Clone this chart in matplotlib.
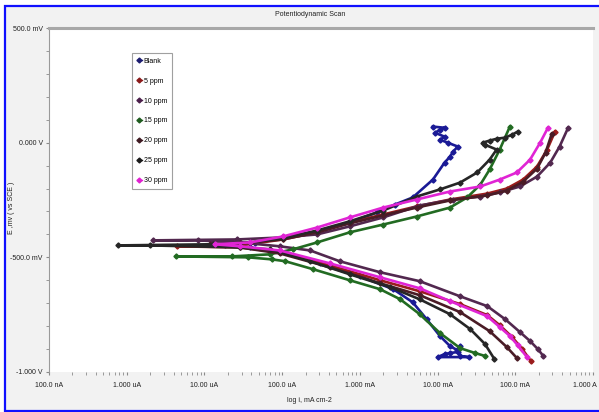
import numpy as np
import matplotlib.pyplot as plt
from matplotlib.lines import Line2D
from matplotlib.patches import Rectangle
from matplotlib.transforms import ScaledTranslation
from matplotlib.ticker import FixedLocator, LogLocator, MultipleLocator, NullFormatter

plt.rcParams['font.family'] = ['Liberation Sans Narrow', 'Liberation Sans', 'DejaVu Sans']

# log10 of current (A) and potential (V vs SCE), cathodic end -> Ecorr -> anodic end
blank_log_i = [-1.71, -1.60, -2.00, -1.91, -1.84, -1.74, -1.71, -1.75, -1.84, -1.97, -2.14, -2.32,
               -2.57, -3.00, -3.51, -4.03, -4.41, -4.74, -4.35, -3.99, -3.55, -3.13, -2.78, -2.55,
               -2.32, -2.06, -1.91, -1.84, -1.80, -1.74, -1.87, -1.97, -1.91, -2.03, -1.97, -1.91, -2.06]
blank_e = [-0.930, -0.935, -0.935, -0.922, -0.917, -0.913, -0.887, -0.904, -0.887, -0.843, -0.770, -0.696,
           -0.639, -0.583, -0.526, -0.478, -0.457, -0.448, -0.439, -0.413, -0.387, -0.348, -0.304, -0.270,
           -0.239, -0.161, -0.087, -0.061, -0.039, -0.017, 0.000, 0.013, 0.026, 0.043, 0.057, 0.065, 0.070]

ppm5_log_i = [-0.80, -0.91, -1.04, -1.20, -1.36, -1.71, -2.23, -2.74, -3.39, -4.03, -4.54, -5.35,
              -4.54, -3.99, -3.55, -3.13, -2.70, -2.27, -1.84, -1.36, -1.11, -0.90, -0.72, -0.59, -0.49]
ppm5_e = [-0.952, -0.900, -0.848, -0.796, -0.752, -0.704, -0.648, -0.600, -0.535, -0.478, -0.457, -0.452,
          -0.448, -0.422, -0.391, -0.348, -0.313, -0.278, -0.248, -0.222, -0.200, -0.161, -0.104, -0.030, 0.048]

ppm10_log_i = [-0.64, -0.71, -0.81, -0.94, -1.13, -1.36, -1.71, -2.23, -2.74, -3.26, -3.64, -4.03, -4.54,
               -5.08, -5.66, -4.58, -3.99, -3.55, -3.13, -2.70, -2.23, -1.80, -1.45, -1.20, -0.94, -0.72,
               -0.55, -0.43, -0.32]
ppm10_e = [-0.930, -0.900, -0.865, -0.826, -0.770, -0.713, -0.670, -0.604, -0.565, -0.517, -0.470, -0.452,
           -0.435, -0.426, -0.426, -0.422, -0.413, -0.400, -0.365, -0.326, -0.274, -0.248, -0.235, -0.217,
           -0.191, -0.148, -0.087, -0.017, 0.065]

ppm15_log_i = [-1.39, -1.52, -1.71, -1.97, -2.23, -2.48, -2.74, -3.13, -3.60, -3.96, -4.13, -4.44, -5.37,
               -4.65, -4.16, -3.86, -3.55, -3.13, -2.70, -2.27, -1.84, -1.62, -1.45, -1.33, -1.20, -1.07]
ppm15_e = [-0.930, -0.917, -0.896, -0.830, -0.748, -0.683, -0.639, -0.600, -0.552, -0.517, -0.509, -0.500,
           -0.496, -0.496, -0.487, -0.465, -0.435, -0.391, -0.357, -0.322, -0.283, -0.239, -0.183, -0.117,
           -0.030, 0.070]

ppm20_log_i = [-0.98, -1.11, -1.33, -1.71, -2.23, -2.74, -3.39, -4.03, -4.54, -4.93, -4.54, -3.99, -3.55,
               -3.13, -2.70, -2.27, -1.84, -1.36, -1.11, -0.90, -0.72, -0.61, -0.53]
ppm20_e = [-0.939, -0.891, -0.822, -0.739, -0.665, -0.613, -0.543, -0.483, -0.457, -0.443, -0.439, -0.422,
           -0.391, -0.352, -0.317, -0.283, -0.252, -0.230, -0.209, -0.170, -0.113, -0.043, 0.039]

ppm25_log_i = [-1.27, -1.39, -1.58, -1.84, -2.23, -2.61, -3.13, -3.64, -4.16, -4.54, -5.70, -6.11,
               -4.89, -4.41, -3.99, -3.55, -3.13, -2.70, -2.27, -1.97, -1.71, -1.49, -1.33, -1.24,
               -1.39, -1.42, -1.33, -1.24, -1.13, -1.04, -0.97]
ppm25_e = [-0.943, -0.878, -0.813, -0.748, -0.683, -0.630, -0.574, -0.517, -0.465, -0.457, -0.448, -0.448,
           -0.443, -0.435, -0.417, -0.383, -0.343, -0.296, -0.235, -0.204, -0.174, -0.130, -0.074, -0.030,
           -0.009, 0.000, 0.009, 0.017, 0.022, 0.035, 0.048]

ppm30_log_i = [-0.85, -0.97, -1.07, -1.20, -1.36, -1.84, -2.23, -2.74, -3.39, -4.03, -4.54, -4.87,
               -4.41, -3.99, -3.55, -3.13, -2.70, -2.27, -1.84, -1.45, -1.20, -0.98, -0.81, -0.68, -0.58]
ppm30_e = [-0.935, -0.883, -0.843, -0.804, -0.757, -0.691, -0.635, -0.587, -0.526, -0.470, -0.452, -0.443,
           -0.435, -0.409, -0.370, -0.326, -0.283, -0.248, -0.213, -0.191, -0.161, -0.130, -0.074, 0.000, 0.065]

labels = ['Blank', '5 ppm', '10 ppm', '15 ppm', '20 ppm', '25 ppm', '30 ppm']
colors = ['#1a1a96', '#9a1c1c', '#52284f', '#226b22', '#4a1c26', '#262626', '#e024d4']
legend_colors = ['#1c1c70', '#8b1a1a', '#4b1f4b', '#1f5c1f', '#3f1a22', '#1a1a1a', '#e020d0']
series = [(blank_log_i, blank_e), (ppm5_log_i, ppm5_e), (ppm10_log_i, ppm10_e), (ppm15_log_i, ppm15_e),
          (ppm20_log_i, ppm20_e), (ppm25_log_i, ppm25_e), (ppm30_log_i, ppm30_e)]

x_ticks = [1e-7, 1e-6, 1e-5, 1e-4, 1e-3, 1e-2, 1e-1, 1.0]
x_tick_labels = ['100.0 nA', '1.000 uA', '10.00 uA', '100.0 uA', '1.000 mA', '10.00 mA', '100.0 mA', '1.000 A']
y_ticks = [-1.0, -0.5, 0.0, 0.5]
y_tick_labels = ['-1.000 V', '-500.0 mV', '0.000 V', '500.0 mV']

fig = plt.figure(figsize=(5.99, 4.12), dpi=100, facecolor='white')
fig.patches.append(Rectangle((5 / 599, 1.5 / 412), 1.2, 405 / 412, transform=fig.transFigure,
                             facecolor='#f2f2f2', edgecolor='#1010ff', lw=1.6, zorder=-10))

ax = fig.add_axes([49 / 599, 40 / 412, 544 / 599, 344 / 412])
ax.set_facecolor('white')

for (log_i, e), c in zip(series, colors):
    ax.plot(10 ** np.array(log_i), e, color=c, lw=1.9, marker='D', ms=2.6, mec=c, mfc=c)

ax.set_xscale('log')
ax.set_xlim(1e-7, 1.0)
ax.set_ylim(-1.0, 0.5)
ax.xaxis.set_major_locator(FixedLocator(x_ticks))
ax.set_xticklabels(x_tick_labels)
ax.xaxis.set_minor_locator(LogLocator(base=10, subs=np.arange(2, 10)))
ax.xaxis.set_minor_formatter(NullFormatter())
ax.yaxis.set_major_locator(FixedLocator(y_ticks))
ax.set_yticklabels(y_tick_labels)
ax.yaxis.set_minor_locator(MultipleLocator(0.1))

for s in ['right', 'bottom']:
    ax.spines[s].set_visible(False)
ax.spines['left'].set_color('#9a9a9a')
ax.spines['top'].set_color('#a8a8a8')
ax.spines['top'].set_linewidth(2.2)
ax.tick_params(which='both', colors='#8a8a8a', labelcolor='#202020', labelsize=5, direction='out')
ax.tick_params(axis='x', which='major', length=2.5, pad=5)
ax.tick_params(axis='x', which='minor', length=2)
ax.tick_params(axis='y', which='major', length=2.5, pad=2)
ax.tick_params(axis='y', which='minor', length=2)

last = ax.get_xticklabels()[-1]
last.set_horizontalalignment('right')
last.set_transform(last.get_transform() + ScaledTranslation(4 / 100, 0, fig.dpi_scale_trans))

fig.text(310 / 599, 1 - 15 / 412, 'Potentiodynamic Scan', ha='center', va='center', fontsize=5, color='#202020')
fig.text(309 / 599, 1 - 401 / 412, 'log i, mA cm-2', ha='center', va='center', fontsize=5, color='#202020')
fig.text(12 / 599, 1 - 208 / 412, 'E ,mv ( vs SCE )', ha='center', va='center', rotation=90,
         fontsize=5, color='#202020')

handles = [Line2D([], [], color=c, lw=1.0, marker='D', ms=2.5) for c in legend_colors]
leg = ax.legend(handles, labels, loc='upper left', bbox_to_anchor=(132 / 599, 1 - 53 / 412),
                bbox_transform=fig.transFigure, fontsize=5, labelspacing=1.85, handlelength=0.7,
                handletextpad=0.3, borderpad=0.7, borderaxespad=0, fancybox=False, framealpha=1)
leg.get_frame().set_edgecolor('#a0a0a0')
leg.get_frame().set_linewidth(0.8)

fig.savefig('out.png', dpi=100, facecolor=fig.get_facecolor())
